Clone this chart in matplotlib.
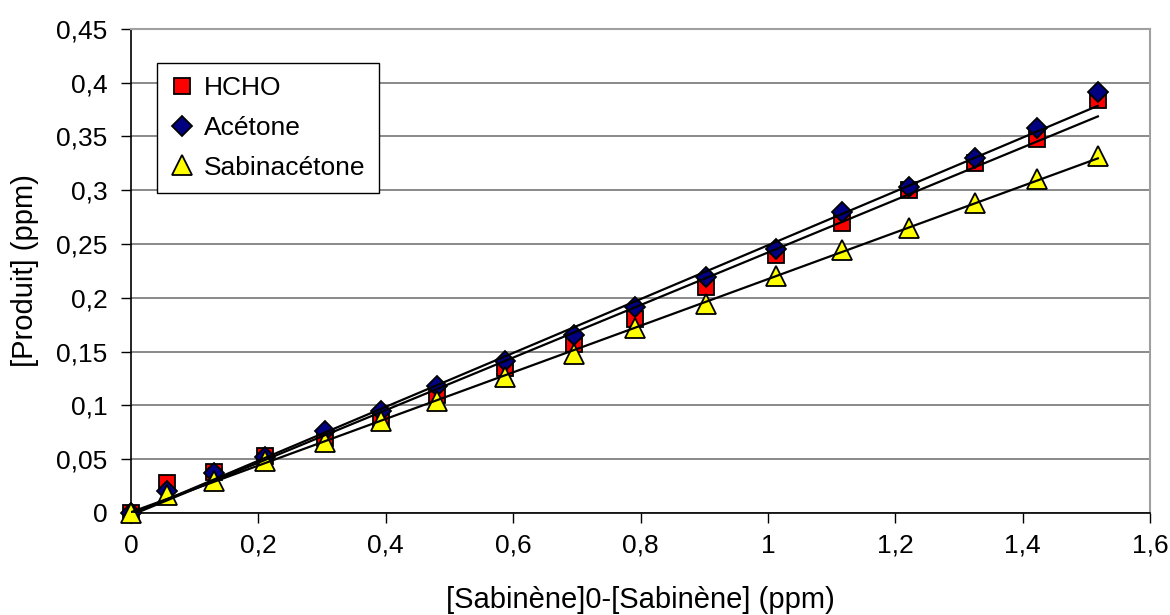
import matplotlib
matplotlib.use("Agg")
import matplotlib.pyplot as plt
import numpy as np

x = [0, 0.057, 0.13, 0.21, 0.305, 0.393, 0.48, 0.587, 0.695, 0.792, 0.903,
     1.013, 1.117, 1.222, 1.325, 1.422, 1.518]
hcho = [0, 0.028, 0.038, 0.053, 0.070, 0.088, 0.110, 0.135, 0.157, 0.180, 0.210,
        0.240, 0.270, 0.300, 0.325, 0.348, 0.384]
acetone = [0, 0.020, 0.037, 0.052, 0.076, 0.095, 0.118, 0.141, 0.165, 0.191, 0.219,
           0.245, 0.280, 0.303, 0.330, 0.358, 0.391]
sabinacetone = [0, 0.017, 0.030, 0.048, 0.066, 0.085, 0.104, 0.126, 0.148, 0.172, 0.194,
                0.220, 0.244, 0.265, 0.288, 0.310, 0.332]

series_names = ["HCHO", "Acétone", "Sabinacétone"]
xticks = [0, 0.2, 0.4, 0.6, 0.8, 1.0, 1.2, 1.4, 1.6]
yticks = [0, 0.05, 0.1, 0.15, 0.2, 0.25, 0.3, 0.35, 0.4, 0.45]

plt.rcParams['font.family'] = ['Liberation Sans', 'DejaVu Sans']

fig = plt.figure(figsize=(11.7, 6.15), dpi=100)
ax = fig.add_axes([0.112, 0.166, 0.871, 0.787])

xa = np.array(x)
styles = [
    dict(marker='s', color='#FF0000', ms=12),
    dict(marker='D', color='#000080', ms=10),
    dict(marker='^', color='#FFFF00', ms=15),
]
for ys, name, st in zip([hcho, acetone, sabinacetone], series_names, styles):
    ax.plot(x, ys, linestyle='none', marker=st['marker'], markersize=st['ms'],
            markerfacecolor=st['color'], markeredgecolor='black', markeredgewidth=1.3,
            label=name, zorder=3, clip_on=False)

for ys in [hcho, acetone, sabinacetone]:
    p = np.polyfit(xa, np.array(ys), 1)
    xs = np.array([xa.min(), xa.max()])
    ax.plot(xs, np.polyval(p, xs), color='black', lw=1.6, zorder=4)

ax.set_xlim(0, 1.6)
ax.set_ylim(0, 0.45)
ax.set_xticks(xticks)
ax.set_yticks(yticks)
fmt = lambda v: ('%g' % v).replace('.', ',')
ax.set_xticklabels([fmt(v) for v in xticks])
ax.set_yticklabels([fmt(v) for v in yticks])
ax.tick_params(axis='both', direction='out', length=7, width=1, labelsize=19, colors='black')
ax.tick_params(axis='y', pad=10)
ax.tick_params(axis='x', pad=8)

ax.yaxis.grid(True, color='#808080', lw=1.3)
ax.set_axisbelow(True)
for s in ['top', 'right']:
    ax.spines[s].set_color('#A0A0A0')
    ax.spines[s].set_linewidth(1.5)
for s in ['left', 'bottom']:
    ax.spines[s].set_color('black')
    ax.spines[s].set_linewidth(1.2)

ax.set_xlabel("[Sabinène]0-[Sabinène] (ppm)", fontsize=21, labelpad=20)
ax.set_ylabel("[Produit] (ppm)", fontsize=21, labelpad=12)

leg = ax.legend(loc='upper left', bbox_to_anchor=(0.025, 0.93), fontsize=19,
                frameon=True, fancybox=False, edgecolor='black', framealpha=1,
                handlelength=0.9, handletextpad=0.4, labelspacing=0.6,
                borderpad=0.5, borderaxespad=0, markerscale=1.0)
leg.get_frame().set_linewidth(1.0)

fig.savefig("out.png", dpi=100)
